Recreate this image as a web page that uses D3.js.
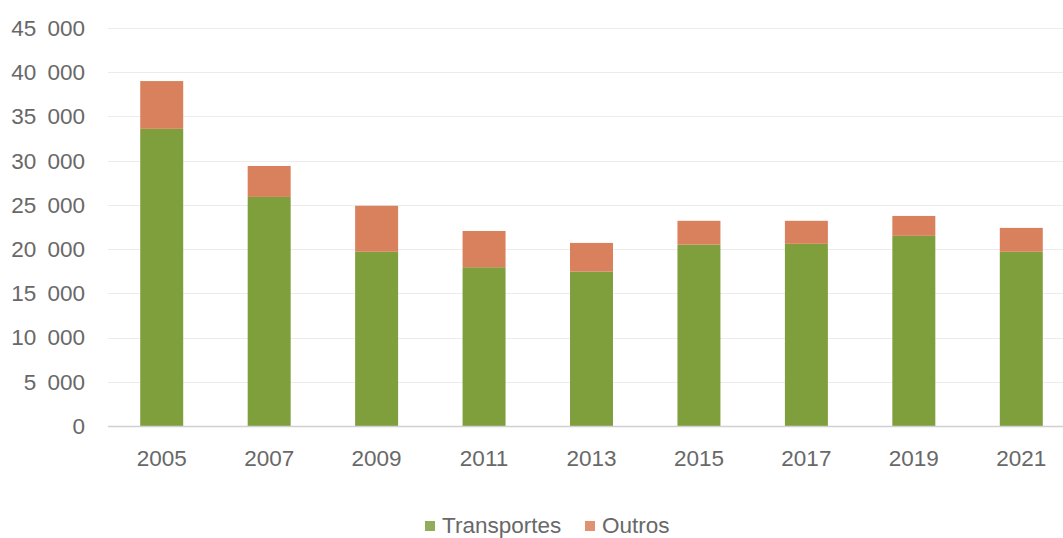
<!DOCTYPE html>
<html lang="pt">
<head>
<meta charset="UTF-8">
<title>Transportes e Outros</title>
<script src="https://cdn.jsdelivr.net/npm/d3@7"></script>
<style>
  html, body { margin: 0; padding: 0; background: #fff; overflow: hidden; }
  svg { display: block; font-family: "Liberation Sans", Arial, sans-serif; }
</style>
</head>
<body>
<script>
// data
const years = ["2005", "2007", "2009", "2011", "2013", "2015", "2017", "2019", "2021"];
const transportes = [33600, 25900, 19700, 17950, 17450, 20500, 20600, 21500, 19700];
const outros = [5400, 3500, 5200, 4100, 3250, 2700, 2600, 2250, 2700];
const yTicks = [0, 5000, 10000, 15000, 20000, 25000, 30000, 35000, 40000, 45000];
const seriesNames = ["Transportes", "Outros"];

const W = 1063, H = 538;
const colors = { Transportes: "#7f9f3d", Outros: "#d9805c" };
const textColor = "#686868";
const fontSize = 22.5;

const svg = d3.select("body").append("svg").attr("width", W).attr("height", H);

const x = d3.scaleBand().domain(years).range([108, 1075]).paddingInner(0.6).paddingOuter(0.3);
const y = d3.scaleLinear().domain([0, 45000]).range([426, 28]);

// gridlines
svg.append("g").selectAll("line")
  .data(yTicks.slice(1))
  .join("line")
  .attr("x1", 108).attr("x2", W)
  .attr("y1", d => Math.round(y(d)) + 0.5).attr("y2", d => Math.round(y(d)) + 0.5)
  .attr("stroke", "#ececec").attr("stroke-width", 1);

// y labels
const fmt = d => d === 0 ? "0" : d3.format(",")(d).replace(",", "\u2002");
svg.append("g").selectAll("text")
  .data(yTicks)
  .join("text")
  .attr("x", 85).attr("y", d => y(d))
  .attr("dy", "0.35em")
  .attr("text-anchor", "end")
  .attr("font-size", fontSize).attr("fill", textColor)
  .text(fmt);

// stacked bars
const rows = years.map((yr, i) => ({ year: yr, Transportes: transportes[i], Outros: outros[i] }));
const stack = d3.stack().keys(seriesNames)(rows);
svg.append("g").selectAll("g")
  .data(stack)
  .join("g")
  .attr("fill", d => colors[d.key])
  .selectAll("rect")
  .data(d => d)
  .join("rect")
  .attr("x", d => x(d.data.year))
  .attr("width", x.bandwidth())
  .attr("y", d => y(d[1]))
  .attr("height", d => y(d[0]) - y(d[1]));

// x axis line
svg.append("line")
  .attr("x1", 108).attr("x2", W)
  .attr("y1", 426.5).attr("y2", 426.5)
  .attr("stroke", "#cfcfd4").attr("stroke-width", 1.5);

// x labels
svg.append("g").selectAll("text")
  .data(years)
  .join("text")
  .attr("x", d => x(d) + x.bandwidth() / 2)
  .attr("y", 458).attr("dy", "0.35em")
  .attr("text-anchor", "middle")
  .attr("font-size", fontSize).attr("fill", textColor)
  .text(d => d);

// legend
const legend = svg.append("g");
const legendX = [425, 585];
seriesNames.forEach((name, i) => {
  legend.append("rect")
    .attr("x", legendX[i]).attr("y", 521)
    .attr("width", 10).attr("height", 10)
    .attr("fill", colors[name]).attr("opacity", 0.85);
  legend.append("text")
    .attr("x", legendX[i] + 17).attr("y", 525).attr("dy", "0.35em")
    .attr("font-size", fontSize).attr("fill", textColor)
    .text(name);
});
</script>
</body>
</html>
